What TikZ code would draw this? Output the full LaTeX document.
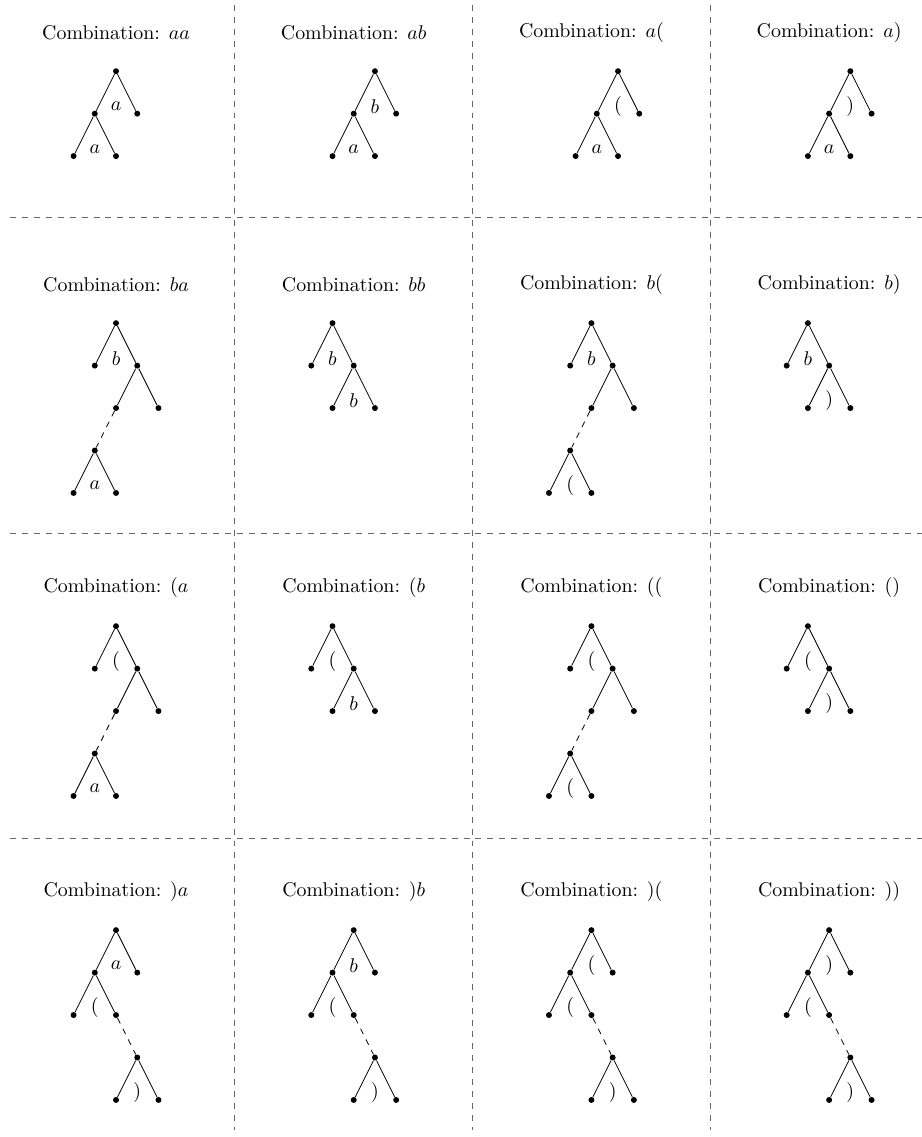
\documentclass[tikz,border=0pt]{standalone}

% one cell: #1 column centre, #2 shift of the tree, #3 row height, #4 title, #5 tree
\newcommand{\combCell}[5]{%
  \begin{scope}[xshift=#1cm,yshift=#3cm]
    \node (title) at (0,0) {Combination: #4};
    \begin{scope}[xshift=#2cm,yshift=-0.675cm]
      #5
    \end{scope}
  \end{scope}}

% first symbol below, second on top
\newcommand{\treeLeft}[2]{%
  \node[dot] (r) at (0,0) {};
  \node[dot] (m) at (-0.375,-0.75) {};
  \node[dot] (mr) at (0.375,-0.75) {};
  \node[dot] (ml) at (-0.75,-1.5) {};
  \node[dot] (mm) at (0,-1.5) {};
  \draw (m) -- (r) -- (mr) (ml) -- (m) -- (mm);
  \node[sym] (s1) at (0,-0.62) {#2};
  \node[sym] (s2) at (-0.375,-1.37) {#1};}

% first symbol on top, second to the right
\newcommand{\treeRight}[2]{%
  \node[dot] (r) at (0,0) {};
  \node[dot] (ml) at (-0.375,-0.75) {};
  \node[dot] (m) at (0.375,-0.75) {};
  \node[dot] (mm) at (0,-1.5) {};
  \node[dot] (mr) at (0.75,-1.5) {};
  \draw (ml) -- (r) -- (m) (mm) -- (m) -- (mr);
  \node[sym] (s1) at (0,-0.62) {#1};
  \node[sym] (s2) at (0.375,-1.37) {#2};}

% first symbol on top, second further down
\newcommand{\treeDeep}[2]{%
  \treeRight{#1}{}
  \node[dot] (d) at (-0.375,-2.25) {};
  \node[dot] (dl) at (-0.75,-3) {};
  \node[dot] (dr) at (0,-3) {};
  \draw[dashed] (mm) -- (d);
  \draw (dl) -- (d) -- (dr);
  \node[sym] (s3) at (-0.375,-2.87) {#2};}

% closing bracket first
\newcommand{\treeClose}[1]{%
  \treeLeft{$($}{#1}
  \node[dot] (e) at (0.375,-2.25) {};
  \node[dot] (el) at (0,-3) {};
  \node[dot] (er) at (0.75,-3) {};
  \draw[dashed] (mm) -- (e);
  \draw (el) -- (e) -- (er);
  \node[sym] (s3) at (0.375,-2.87) {$)$};}

\begin{document}
\begin{tikzpicture}[
  dot/.style={circle,fill=black,inner sep=0pt,minimum size=3pt},
  sym/.style={inner sep=1pt},
  grid line/.style={dashed,black!60}]
  \path[use as bounding box] (0,0) rectangle (16.29,-20.09);

  % grid
  \foreach \x in {4.15,8.35,12.55}
    \draw[grid line] (\x,-0.09) -- (\x,-19.96);
  \foreach \y in {-3.834,-9.417,-14.806}
    \draw[grid line] (0.177,\y) -- (16.29,\y);

  % first row
  \combCell{2.05}{0}{-0.583}{$aa$}{\treeLeft{$a$}{$a$}}
  \combCell{6.25}{0.375}{-0.583}{$ab$}{\treeLeft{$a$}{$b$}}
  \combCell{10.45}{0.47}{-0.583}{$a($}{\treeLeft{$a$}{$($}}
  \combCell{14.65}{0.375}{-0.583}{$a)$}{\treeLeft{$a$}{$)$}}
  % second row
  \combCell{2.05}{0}{-5.035}{$ba$}{\treeDeep{$b$}{$a$}}
  \combCell{6.25}{-0.375}{-5.035}{$bb$}{\treeRight{$b$}{$b$}}
  \combCell{10.45}{0}{-5.035}{$b($}{\treeDeep{$b$}{$($}}
  \combCell{14.65}{-0.375}{-5.035}{$b)$}{\treeRight{$b$}{$)$}}
  % third row
  \combCell{2.05}{0}{-10.389}{$(a$}{\treeDeep{$($}{$a$}}
  \combCell{6.25}{-0.375}{-10.389}{$(b$}{\treeRight{$($}{$b$}}
  \combCell{10.45}{0}{-10.389}{$(($}{\treeDeep{$($}{$($}}
  \combCell{14.65}{-0.375}{-10.389}{$()$}{\treeRight{$($}{$)$}}
  % fourth row
  \combCell{2.05}{0}{-15.76}{$)a$}{\treeClose{$a$}}
  \combCell{6.25}{0}{-15.76}{$)b$}{\treeClose{$b$}}
  \combCell{10.45}{0}{-15.76}{$)($}{\treeClose{$($}}
  \combCell{14.65}{0}{-15.76}{$))$}{\treeClose{$)$}}
\end{tikzpicture}
\end{document}
